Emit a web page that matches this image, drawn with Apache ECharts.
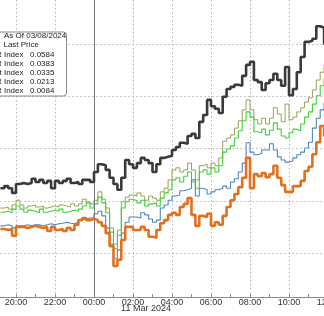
<!DOCTYPE html>
<html><head><meta charset="utf-8">
<script src="https://cdn.jsdelivr.net/npm/echarts@6/dist/echarts.min.js"></script>
<style>html,body{margin:0;padding:0;background:#fff}#c{width:324px;height:316px}</style>
</head><body><div id="c"></div>
<script>
const times = ["19:12","19:24","19:36","19:48",
"20:00","20:12","20:24","20:36","20:48","21:00","21:12","21:24","21:36","21:48",
"22:00","22:12","22:24","22:36","22:48","23:00","23:12","23:24","23:36","23:48",
"00:00","00:12","00:24","00:36","00:48","01:00","01:12","01:24","01:36","01:48",
"02:00","02:12","02:24","02:36","02:48","03:00","03:12","03:24","03:36","03:48",
"04:00","04:12","04:24","04:36","04:48","05:00","05:12","05:24","05:36","05:48",
"06:00","06:12","06:24","06:36","06:48","07:00","07:12","07:24","07:36","07:48",
"08:00","08:12","08:24","08:36","08:48","09:00","09:12","09:24","09:36","09:48",
"10:00","10:12","10:24","10:36","10:48","11:00","11:12","11:24","11:36","11:48","12:00"];

const lastPrice = [1.24,1.28,1.24,1.15,1.32,1.34,1.32,1.34,1.42,1.36,1.40,1.34,1.38,1.24,1.38,1.34,1.38,1.42,1.34,1.36,1.32,1.40,1.40,1.36,
1.55,1.70,1.68,1.59,1.44,1.32,1.21,1.44,1.78,1.70,1.63,1.72,1.82,1.78,1.72,1.55,1.70,1.82,1.84,1.86,1.97,2.03,2.11,2.09,2.24,2.28,2.20,2.51,2.64,2.93,
2.81,2.76,2.68,2.99,3.14,3.18,3.22,3.20,3.39,3.60,3.66,3.31,3.27,3.12,3.25,3.31,3.43,3.31,3.20,3.56,3.02,3.14,3.46,3.75,4.04,4.06,4.10,4.34,4.31,4.00,4.00];

const oliveIndex = [0.86,0.88,0.84,0.92,1.01,0.92,0.86,0.90,0.92,0.88,0.90,0.86,0.88,0.90,0.88,0.92,0.90,0.88,0.94,0.90,0.94,1.03,0.98,0.94,
1.01,1.17,1.03,0.86,0.48,0.17,0.44,0.98,1.07,1.11,1.09,1.15,1.09,1.01,1.09,1.05,1.01,1.17,1.24,1.40,1.59,1.63,1.55,1.59,1.72,1.59,1.40,1.67,1.70,1.63,
1.72,1.67,1.82,2.14,2.20,2.26,2.39,2.53,2.74,2.93,2.74,2.55,2.47,2.58,2.47,2.58,2.78,2.66,2.51,2.85,2.55,2.60,2.70,2.78,2.89,2.97,3.12,3.31,3.46,3.60,3.60];

const greenIndex = [0.78,0.80,0.77,0.84,0.90,0.84,0.78,0.82,0.80,0.77,0.84,0.78,0.80,0.82,0.80,0.84,0.78,0.80,0.82,0.80,0.84,0.90,0.96,0.86,
0.94,1.07,0.96,0.77,0.40,0.08,0.34,0.86,0.98,1.03,1.00,0.96,1.01,0.90,0.94,0.96,0.90,1.05,1.15,1.21,1.40,1.44,1.36,1.47,1.55,1.36,1.24,1.55,1.59,1.51,
1.63,1.55,1.67,1.93,1.99,2.05,2.20,2.34,2.53,2.70,2.60,2.32,2.30,2.37,2.26,2.35,2.49,2.37,2.24,2.20,2.30,2.37,2.34,2.47,2.60,2.70,2.85,3.01,3.20,3.35,3.35];

const blueIndex = [0.52,0.54,0.52,0.48,0.52,0.52,0.54,0.52,0.54,0.54,0.52,0.54,0.56,0.54,0.56,0.57,0.59,0.57,0.56,0.59,0.63,0.65,0.67,0.67,
0.75,0.80,0.71,0.48,0.17,-0.10,0.06,0.38,0.59,0.69,0.69,0.67,0.77,0.73,0.65,0.59,0.63,0.86,0.92,1.01,1.09,1.11,1.19,1.21,1.24,1.40,1.09,1.24,1.21,1.13,
1.17,1.21,1.24,1.28,1.24,1.36,1.42,1.55,1.72,2.11,1.93,1.88,1.91,1.97,1.97,2.09,1.97,1.84,1.78,1.74,1.76,1.82,1.88,1.93,2.01,2.12,2.39,2.58,2.74,2.87,2.87];

const orangeIndex = [0.46,0.44,0.46,0.33,0.50,0.50,0.48,0.50,0.52,0.50,0.48,0.50,0.42,0.50,0.44,0.46,0.42,0.48,0.44,0.54,0.63,0.67,0.63,0.65,
0.63,0.59,0.52,0.38,0.13,-0.25,-0.13,0.25,0.50,0.50,0.44,0.44,0.50,0.44,0.31,0.29,0.44,0.57,0.63,0.73,0.77,0.73,0.88,0.94,1.05,0.73,0.52,0.71,0.69,0.75,
0.52,0.59,0.54,0.71,0.88,1.01,1.13,1.26,1.44,1.82,1.24,1.51,1.47,1.53,1.45,1.51,1.67,1.44,1.30,1.17,1.17,1.28,1.28,1.38,1.57,1.65,1.89,2.12,2.43,2.24,2.24];

const gridValues = [0, 1, 2, 3, 4];
const dayBreak = "00:00";
const dateLabel = "11 Mar 2024";
const legendHeader = "As Of 03/08/2024";
const legendRows = [
  ["Last Price", ""],
  ["R Index", "0.0584"],
  ["R Index", "0.0383"],
  ["t Index", "0.0335"],
  ["YR Index", "0.0213"],
  ["YR Index", "0.0084"]
];

const FONT = "'Liberation Sans Narrow', 'Liberation Sans', Arial, sans-serif";
const isHour = v => v.endsWith(":00");
const isEvenHour = v => isHour(v) && parseInt(v, 10) % 2 === 0;

const chart = echarts.init(document.getElementById('c'), null, {renderer: 'canvas'});

function lineSeries(name, data, color, width, z) {
  return {
    name, type: 'line', data, step: 'end', symbol: 'none', z,
    lineStyle: {color, width}, itemStyle: {color}, animation: false, silent: true
  };
}

const legendGraphics = [
  {type: 'rect', shape: {x: -6, y: 32, width: 72.5, height: 64, r: 3},
   style: {fill: '#fff', stroke: '#8a8a8a', lineWidth: 1}, z: 100},
  {type: 'text', x: 4, y: 36, z: 101,
   style: {text: legendHeader, font: "8px 'Liberation Sans', Arial, sans-serif", fill: '#222', verticalAlign: 'middle'}}
];
legendRows.forEach((row, k) => {
  const y = 45.2 + k * 9.2;
  legendGraphics.push({type: 'text', x: k === 0 ? 39 : 23.5, y, z: 101,
    style: {text: row[0], font: "8px 'Liberation Sans', Arial, sans-serif", fill: '#222', align: 'right', verticalAlign: 'middle'}});
  if (row[1]) legendGraphics.push({type: 'text', x: 30, y, z: 101,
    style: {text: row[1], font: "8px 'Liberation Sans', Arial, sans-serif", fill: '#222', align: 'left', verticalAlign: 'middle'}});
});
legendGraphics.push({type: 'text', x: 146, y: 308.5, z: 101,
  style: {text: dateLabel, font: "9px " + FONT, fill: '#333', align: 'center', verticalAlign: 'middle'}});

chart.setOption({
  animation: false,
  backgroundColor: '#fff',
  grid: {left: 0.4, right: -4, top: 0, bottom: 19, containLabel: false, outerBoundsMode: 'none'},
  xAxis: {
    type: 'category', data: times, boundaryGap: false,
    axisLine: {onZero: false, lineStyle: {color: '#8c8c8c', width: 1}},
    axisTick: {show: true, inside: true, length: 3, interval: (i, v) => isHour(v), lineStyle: {color: '#8c8c8c'}},
    axisLabel: {interval: (i, v) => isEvenHour(v), color: '#333', fontSize: 9, fontFamily: FONT, margin: 1,
      showMaxLabel: true, hideOverlap: false},
    splitLine: {show: true, interval: (i, v) => isEvenHour(v), lineStyle: {color: '#b5b5b5', type: [1.5, 2.5], width: 1}}
  },
  yAxis: {type: 'value', min: -0.842, max: 4.842, show: false},
  series: [
    {type: 'line', data: [], z: 1, silent: true, markLine: {
      silent: true, symbol: 'none', animation: false, label: {show: false},
      lineStyle: {color: '#b5b5b5', type: [1.5, 2.5], width: 1},
      data: gridValues.map(v => ({yAxis: v})).concat([{xAxis: dayBreak, lineStyle: {color: '#7a7a7a', type: 'solid', width: 1}}])
    }},
    lineSeries('Olive Index', oliveIndex, '#9d9f55', 1, 2),
    lineSeries('Green Index', greenIndex, '#3fcf3a', 1.1, 3),
    lineSeries('Blue Index', blueIndex, '#4f86c0', 1.1, 4),
    lineSeries('Orange Index', orangeIndex, '#e2701c', 2.6, 5),
    lineSeries('Last Price', lastPrice, '#3a3a3a', 2.6, 6)
  ],
  graphic: legendGraphics
});
</script></body></html>
